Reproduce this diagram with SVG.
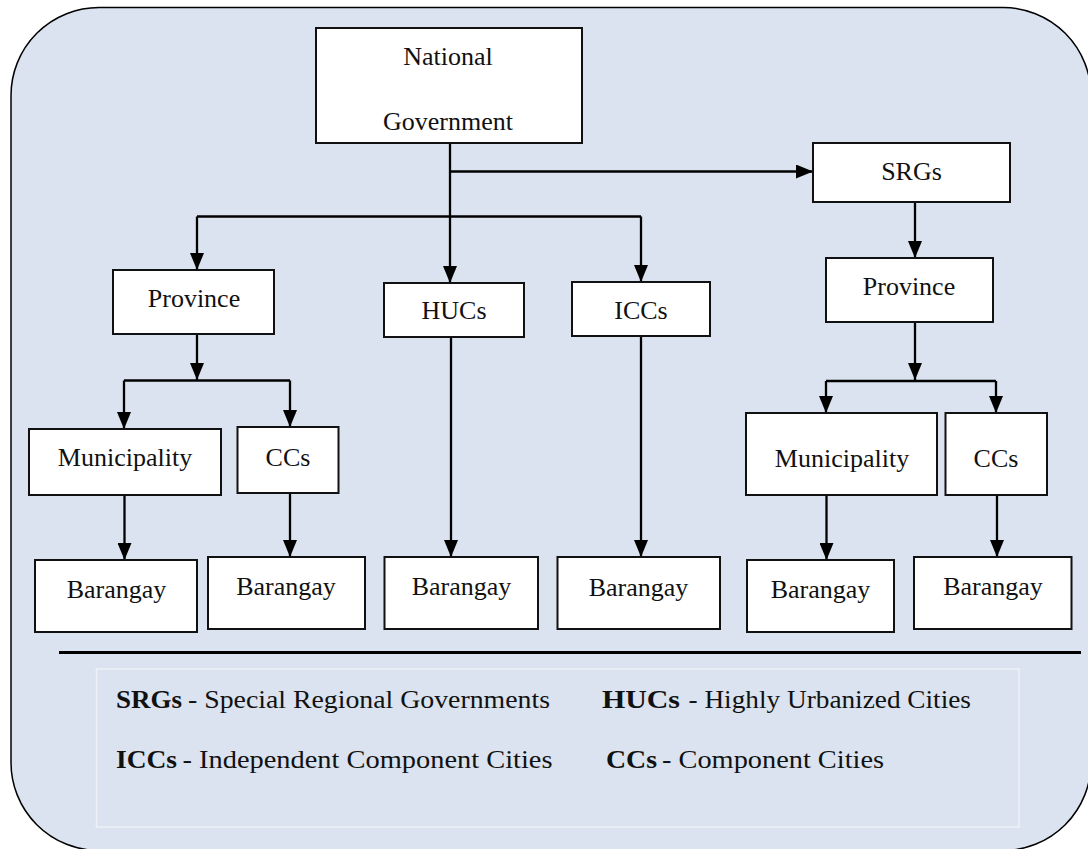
<svg xmlns="http://www.w3.org/2000/svg" width="1088" height="849" viewBox="0 0 1088 849">
<defs>
<marker id="arr" markerUnits="userSpaceOnUse" markerWidth="17" markerHeight="14" refX="17" refY="7" orient="auto">
<path d="M0,0 L17,7 L0,14 z" fill="#000"/>
</marker>
<style>
.box{fill:#fff;stroke:#111;stroke-width:2}
.lbl{font-family:"Liberation Serif","Times New Roman",serif;font-size:26px;fill:#111;text-anchor:middle}
.leg{font-family:"Liberation Serif","Times New Roman",serif;font-size:26px;fill:#111}
.b{font-weight:bold}
.con{fill:none;stroke:#000;stroke-width:2.3}
.arw{marker-end:url(#arr)}
</style>
</defs>
<rect id="frame" x="11" y="7.5" width="1080" height="843" rx="88" ry="88" fill="#dae3ef" stroke="#000" stroke-width="1.5"/>

<g id="connectors">
<path class="con arw" d="M450,143 V283"/>
<path class="con arw" d="M450,171.5 H813"/>
<path class="con" d="M197,216.5 H641" stroke-width="1.6"/>
<path class="con arw" d="M197,216.5 V270"/>
<path class="con arw" d="M641,216.5 V282"/>
<path class="con arw" d="M197,334 V380"/>
<path class="con" d="M124,380.5 H290"/>
<path class="con arw" d="M124,380.5 V429"/>
<path class="con arw" d="M290,380.5 V427"/>
<path class="con arw" d="M124.5,493 V560"/>
<path class="con arw" d="M290,493 V557"/>
<path class="con arw" d="M451,337 V557"/>
<path class="con arw" d="M641,336 V557"/>
<path class="con arw" d="M915,202 V258"/>
<path class="con arw" d="M915,322 V380"/>
<path class="con" d="M826,381 H996"/>
<path class="con arw" d="M826,381 V413"/>
<path class="con arw" d="M996,381 V413"/>
<path class="con arw" d="M826.5,495 V560"/>
<path class="con arw" d="M997,495 V557"/>
</g>

<g id="national">
<rect class="box" x="316" y="28" width="266" height="115"/>
<text class="lbl" x="448" y="65">National</text>
<text class="lbl" x="448" y="130">Government</text>
</g>
<g id="srgs">
<rect class="box" x="813" y="143" width="197" height="59"/>
<text class="lbl" x="911.5" y="180">SRGs</text>
</g>
<g id="province-left">
<rect class="box" x="113" y="270" width="161" height="64"/>
<text class="lbl" x="194" y="307">Province</text>
</g>
<g id="hucs">
<rect class="box" x="384" y="283" width="140" height="54"/>
<text class="lbl" x="454" y="319">HUCs</text>
</g>
<g id="iccs">
<rect class="box" x="572" y="282" width="138" height="54"/>
<text class="lbl" x="641" y="319">ICCs</text>
</g>
<g id="province-right">
<rect class="box" x="826" y="258" width="167" height="64"/>
<text class="lbl" x="909" y="295">Province</text>
</g>
<g id="municipality-left">
<rect class="box" x="29" y="429" width="192" height="66"/>
<text class="lbl" x="125" y="466">Municipality</text>
</g>
<g id="ccs-left">
<rect class="box" x="237.5" y="427" width="101" height="66"/>
<text class="lbl" x="288" y="466">CCs</text>
</g>
<g id="municipality-right">
<rect class="box" x="746" y="413" width="191" height="82"/>
<text class="lbl" x="842" y="467">Municipality</text>
</g>
<g id="ccs-right">
<rect class="box" x="945.5" y="413" width="101.5" height="82"/>
<text class="lbl" x="996" y="467">CCs</text>
</g>
<g id="barangay-1">
<rect class="box" x="35" y="560" width="162" height="72"/>
<text class="lbl" x="116.5" y="598">Barangay</text>
</g>
<g id="barangay-2">
<rect class="box" x="208" y="557" width="157" height="72"/>
<text class="lbl" x="286" y="595">Barangay</text>
</g>
<g id="barangay-3">
<rect class="box" x="384.5" y="557" width="153.5" height="72"/>
<text class="lbl" x="461.5" y="595">Barangay</text>
</g>
<g id="barangay-4">
<rect class="box" x="557.5" y="557" width="162.5" height="72"/>
<text class="lbl" x="638.5" y="596">Barangay</text>
</g>
<g id="barangay-5">
<rect class="box" x="747" y="560" width="147" height="72"/>
<text class="lbl" x="820.5" y="598">Barangay</text>
</g>
<g id="barangay-6">
<rect class="box" x="914" y="557" width="157.5" height="72"/>
<text class="lbl" x="993" y="595">Barangay</text>
</g>

<line x1="59" y1="652.5" x2="1081" y2="652.5" stroke="#000" stroke-width="3"/>

<g id="legend">
<rect x="96.5" y="669" width="922.5" height="158" fill="none" stroke="#eef2f8" stroke-width="1.5"/>
<text class="leg b" x="116" y="708" textLength="66" lengthAdjust="spacingAndGlyphs">SRGs</text>
<text class="leg" x="188" y="708" textLength="362" lengthAdjust="spacingAndGlyphs">- Special Regional Governments</text>
<text class="leg b" x="602" y="708" textLength="78" lengthAdjust="spacingAndGlyphs">HUCs</text>
<text class="leg" x="688.5" y="708" textLength="282.5" lengthAdjust="spacingAndGlyphs">- Highly Urbanized Cities</text>
<text class="leg b" x="116" y="768" textLength="61" lengthAdjust="spacingAndGlyphs">ICCs</text>
<text class="leg" x="182.5" y="768" textLength="370" lengthAdjust="spacingAndGlyphs">- Independent Component Cities</text>
<text class="leg b" x="606" y="768" textLength="51" lengthAdjust="spacingAndGlyphs">CCs</text>
<text class="leg" x="662" y="768" textLength="222" lengthAdjust="spacingAndGlyphs">- Component Cities</text>
</g>
</svg>
